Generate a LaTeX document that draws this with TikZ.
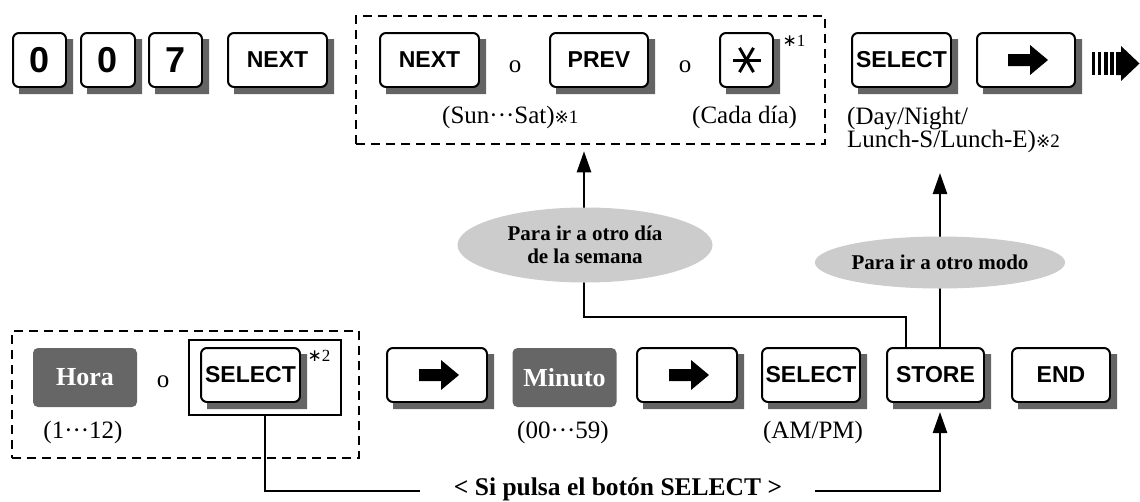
\documentclass[tikz,border=0pt]{standalone}
\usepackage{fontspec}
\setmainfont{Liberation Serif}
\newfontfamily\keyfont{Liberation Sans}
\newfontfamily\djv{DejaVu Sans}
\usetikzlibrary{shapes.geometric,arrows.meta}
\definecolor{shadowcol}{RGB}{100,100,100}
\definecolor{darkcol}{RGB}{102,102,102}
\definecolor{ellcol}{RGB}{204,204,204}
\newcommand\keyfnt{\keyfont\bfseries\fontsize{23}{23}\selectfont}
\newcommand\digfnt{\keyfont\bfseries\fontsize{36}{36}\selectfont}
\newcommand\txtfnt{\fontsize{25}{28}\selectfont}
\newcommand\notefnt{\fontsize{17}{17}\selectfont}
\newcommand\refmark[1]{{\djv\fontsize{17}{17}\selectfont ※}{\fontsize{19}{19}\selectfont #1}}
\newcommand\keyarrowsym[1]{\fill (#1.center) ++(-18,-6) -- ++(22,0) -- ++(0,-9) -- ++(18,15) -- ++(-18,15) -- ++(0,-9) -- ++(-22,0) -- cycle;}
\newcommand\keyshade[1]{\fill[shadowcol] ([yshift=-7pt]#1.north east) -- ([xshift=6pt,yshift=-7pt]#1.north east) -- ([xshift=6pt,yshift=-6pt]#1.south east) -- ([xshift=7pt,yshift=-6pt]#1.south west) -- ([xshift=7pt]#1.south west) -- (#1.south east) -- cycle;}
\begin{document}
\begin{tikzpicture}[x=1pt,y=-1pt,
  key/.style={draw, line width=2pt, fill=white, rounded corners=6pt, minimum height=54pt, inner sep=0pt, font=\keyfnt},
  keyshadow/.style={fill=shadowcol, rounded corners=6pt, minimum height=54pt, inner sep=0pt},
  dbox/.style={draw, line width=2.5pt, dash pattern=on 9pt off 6pt, inner sep=0pt},
  darkbox/.style={fill=darkcol, rounded corners=5pt, minimum width=104pt, minimum height=59pt, inner sep=0pt, text=white, font=\bfseries\fontsize{26}{26}\selectfont},
  otext/.style={inner sep=0pt, font=\txtfnt},
  lbl/.style={inner sep=0pt, font=\txtfnt},
  note/.style={inner sep=0pt, font=\notefnt},
  ell/.style={ellipse, fill=ellcol, inner sep=0pt, align=center, font=\bfseries\fontsize{21}{23}\selectfont},
  conn/.style={line width=2.5pt},
  arr/.style={-{Triangle[length=21pt,width=14pt]}}]
\useasboundingbox (0,0) rectangle (1140,501);

% ---------- top row ----------
\node[dbox, minimum width=469pt, minimum height=128pt] (boxday) at (590.5,80) {};

\node[keyshadow, minimum width=53pt] (k0ash) at (45.5,66) {};
\node[key, minimum width=53pt, font=\digfnt] (k0a) at (39.5,60) {0};
\keyshade{k0a}
\node[keyshadow, minimum width=54pt] (k0bsh) at (114,66) {};
\node[key, minimum width=54pt, font=\digfnt] (k0b) at (108,60) {0};
\keyshade{k0b}
\node[keyshadow, minimum width=53pt] (k7sh) at (181.5,66) {};
\node[key, minimum width=53pt, font=\digfnt] (k7) at (175.5,60) {7};
\keyshade{k7}
\node[keyshadow, minimum width=99pt] (knextash) at (283.5,66) {};
\node[key, minimum width=99pt] (knexta) at (277.5,60) {NEXT};
\keyshade{knexta}
\node[keyshadow, minimum width=99pt] (knextbsh) at (435.5,66) {};
\node[key, minimum width=99pt] (knextb) at (429.5,60) {NEXT};
\keyshade{knextb}
\node[otext] (or1) at (515,67) {o};
\node[keyshadow, minimum width=98pt] (kprevsh) at (605,66) {};
\node[key, minimum width=98pt] (kprev) at (599,60) {PREV};
\keyshade{kprev}
\node[otext] (or2) at (685,67) {o};
\node[keyshadow, minimum width=53pt] (kstarsh) at (752.5,66) {};
\node[key, minimum width=53pt] (kstar) at (746.5,60) {};
\keyshade{kstar}
\draw[line width=3pt] (kstar.center) ++(-14,0) -- ++(28,0);
\draw[line width=3pt] (kstar.center) ++(-7,-12.1) -- ++(14,24.2);
\draw[line width=3pt] (kstar.center) ++(7,-12.1) -- ++(-14,24.2);
\node[note] (n1) at (794,41) {{\djv ∗}1};
\node[keyshadow, minimum width=99pt] (kselash) at (907.5,66) {};
\node[key, minimum width=99pt] (ksela) at (901.5,60) {SELECT};
\keyshade{ksela}
\node[keyshadow, minimum width=98pt] (karrash) at (1032,66) {};
\node[key, minimum width=98pt] (karra) at (1026,60) {};
\keyshade{karra}
\keyarrowsym{karra}
% striped arrow
\fill (1092,52) rectangle (1094.5,75);
\fill (1098,52) rectangle (1101,75);
\fill (1104,52) rectangle (1107.5,75);
\fill (1110,52) rectangle (1114,75);
\fill (1116,52) -- (1121,52) -- (1121,46) -- (1139.5,63.5) -- (1121,81) -- (1121,75) -- (1116,75) -- cycle;

\node[lbl, anchor=base west] (sunsat) at (442,123) {(Sun···Sat)\refmark{1}};
\node[lbl, anchor=base west] (cada) at (692,123) {(Cada día)};
\node[lbl, anchor=base west] (dn) at (847,124) {(Day/Night/};
\node[lbl, anchor=base west] (lunch) at (847,147) {Lunch-S/Lunch-E)\refmark{2}};

% ---------- bottom row ----------
\node[dbox, minimum width=347pt, minimum height=127pt] (boxhour) at (185.5,394.5) {};
\node[darkbox] (hora) at (85,377.5) {Hora};
\node[otext] (or3) at (163,382) {o};
\node[draw, line width=2pt, minimum width=152pt, minimum height=75pt, inner sep=0pt, fill=white] (selbox) at (265,377.5) {};
\node[keyshadow, minimum width=99pt] (kselbsh) at (256.5,381) {};
\node[key, minimum width=99pt] (kselb) at (250.5,375) {SELECT};
\keyshade{kselb}
\node[note] (n2) at (319,356) {{\djv ∗}2};
\node[keyshadow, minimum width=100pt] (karrbsh) at (443,381) {};
\node[key, minimum width=100pt] (karrb) at (437,375) {};
\keyshade{karrb}
\keyarrowsym{karrb}
\node[darkbox] (minuto) at (564.5,377.5) {Minuto};
\node[keyshadow, minimum width=100pt] (karrcsh) at (693,381) {};
\node[key, minimum width=100pt] (karrc) at (687,375) {};
\keyshade{karrc}
\keyarrowsym{karrc}
\node[keyshadow, minimum width=98pt] (kselcsh) at (817,381) {};
\node[key, minimum width=98pt] (kselc) at (811,375) {SELECT};
\keyshade{kselc}
\node[keyshadow, minimum width=97pt] (kstoresh) at (941.5,381) {};
\node[key, minimum width=97pt] (kstore) at (935.5,375) {STORE};
\keyshade{kstore}
\node[keyshadow, minimum width=98pt] (kendsh) at (1067,381) {};
\node[key, minimum width=98pt] (kend) at (1061,375) {END};
\keyshade{kend}

\node[lbl, anchor=base] (h12) at (83,438) {(1···12)};
\node[lbl, anchor=base] (m59) at (563,438) {(00···59)};
\node[lbl, anchor=base] (ampm) at (813,438) {(AM/PM)};
\node[inner sep=0pt, anchor=base, font=\bfseries\fontsize{25.5}{28}\selectfont] (sitext) at (618,495) {< Si pulsa el botón SELECT >};

\coordinate (sl) at (420,491);
\coordinate (sr) at (815,491);
\coordinate (turn) at (584,317);

% ---------- connectors ----------
\draw[conn] (selbox.south) |- (sl);
\draw[conn, arr] (sr) -| ([xshift=4.5pt,yshift=-9pt]kstore.south);
\draw[conn, arr] ([xshift=-29.5pt]kstore.north) |- (turn) -- ([yshift=-6pt]boxday.south -| turn);
\draw[conn, arr] ([xshift=4.5pt]kstore.north) -- ([xshift=4.5pt]kstore.north |- 0,173);

\node[ell, minimum width=255pt, minimum height=75pt] (eday) at (585,245) {Para ir a otro día\\de la semana};
\node[ell, minimum width=250pt, minimum height=52pt] (emode) at (940,262.5) {Para ir a otro modo};
\end{tikzpicture}
\end{document}
